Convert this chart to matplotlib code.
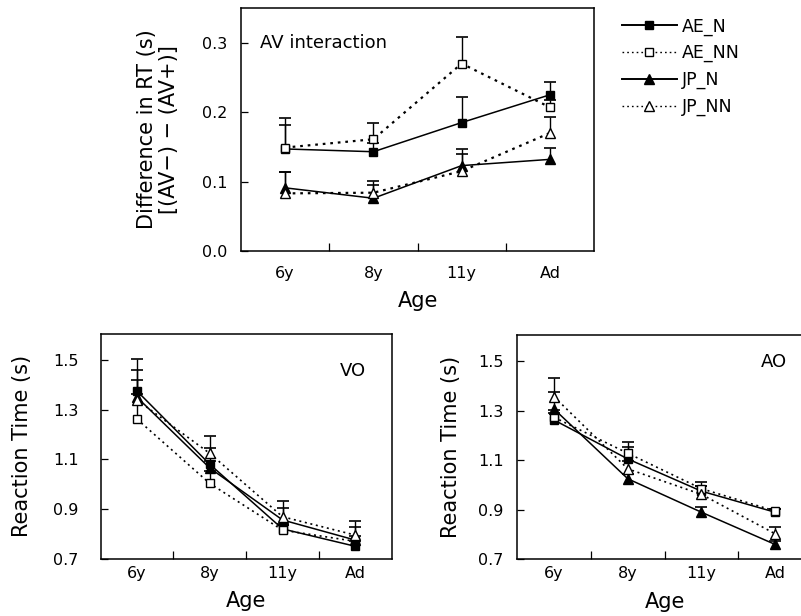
import matplotlib
matplotlib.use('Agg')
import matplotlib.pyplot as plt
import numpy as np

plt.rcParams['font.family'] = 'DejaVu Sans'

ages = ['6y', '8y', '11y', 'Ad']
groups = ['AE_N', 'AE_NN', 'JP_N', 'JP_NN']

# AV interaction: difference in RT (s)
av_ae_n = [0.147, 0.143, 0.185, 0.225]
av_ae_nn = [0.149, 0.161, 0.270, 0.207]
av_jp_n = [0.091, 0.076, 0.123, 0.132]
av_jp_nn = [0.083, 0.084, 0.115, 0.170]
av_err_ae_n = [0.035, 0.012, 0.037, 0.019]
av_err_ae_nn = [0.043, 0.024, 0.038, 0.010]
av_err_jp_n = [0.023, 0.019, 0.024, 0.017]
av_err_jp_nn = [0.031, 0.017, 0.025, 0.023]

# VO reaction time (s)
vo_ae_n = [1.375, 1.080, 0.820, 0.750]
vo_ae_nn = [1.262, 1.003, 0.815, 0.770]
vo_jp_n = [1.350, 1.065, 0.856, 0.775]
vo_jp_nn = [1.339, 1.124, 0.869, 0.795]
vo_err_ae_n = [0.130, 0.067, 0.020, 0.020]
vo_err_ae_nn = [0.100, 0.050, 0.020, 0.020]
vo_err_jp_n = [0.112, 0.030, 0.047, 0.054]
vo_err_jp_nn = [0.081, 0.070, 0.063, 0.058]

# AO reaction time (s)
ao_ae_n = [1.262, 1.105, 0.975, 0.890]
ao_ae_nn = [1.273, 1.128, 0.985, 0.895]
ao_jp_n = [1.306, 1.025, 0.890, 0.760]
ao_jp_nn = [1.356, 1.065, 0.962, 0.803]
ao_err_ae_n = [0.030, 0.050, 0.020, 0.014]
ao_err_ae_nn = [0.030, 0.047, 0.026, 0.009]
ao_err_jp_n = [0.071, 0.020, 0.023, 0.015]
ao_err_jp_nn = [0.076, 0.030, 0.033, 0.027]

styles = {
    'AE_N': dict(marker='s', mfc='black', ls='-'),
    'AE_NN': dict(marker='s', mfc='white', ls=(0, (1.2, 2.2))),
    'JP_N': dict(marker='^', mfc='black', ls='-'),
    'JP_NN': dict(marker='^', mfc='white', ls=(0, (1.2, 2.2))),
}


def draw_panel(ax, series, errs, dot_lw):
    x = np.arange(len(ages))
    handles = []
    for name, vals, err in zip(groups, series, errs):
        st = styles[name]
        vals = np.array(vals)
        err = np.array(err)
        ax.vlines(x, vals, vals + err, color='black', lw=1.0, zorder=2)
        ax.plot(x, vals + err, ls='none', marker='_', ms=9, mew=1.2,
                color='black', zorder=2)
        lw = 1.1 if st['ls'] == '-' else dot_lw
        h, = ax.plot(x, vals, color='black', lw=lw, ls=st['ls'],
                     marker=st['marker'], mfc=st['mfc'], mec='black',
                     mew=1.0, ms=5.5 if st['marker'] == 's' else 6.5,
                     zorder=3, label=name)
        handles.append(h)
    ax.set_xlim(-0.5, 3.5)
    ax.set_xticks(x)
    ax.set_xticklabels(ages)
    ax.set_xticks([0.5, 1.5, 2.5], minor=True)
    ax.tick_params(axis='x', which='major', length=0)
    ax.tick_params(axis='x', which='minor', direction='in', length=6, width=0.9)
    ax.tick_params(axis='y', direction='in', length=5, width=0.9)
    for sp in ax.spines.values():
        sp.set_linewidth(1.1)
    return handles


fig = plt.figure(figsize=(8.01, 6.16), dpi=100)

# top panel
ax1 = fig.add_axes([0.3009, 0.5925, 0.4407, 0.3945])
handles = draw_panel(ax1, [av_ae_n, av_ae_nn, av_jp_n, av_jp_nn],
                     [av_err_ae_n, av_err_ae_nn, av_err_jp_n, av_err_jp_nn], 1.6)
ax1.set_ylim(0, 0.35)
ax1.set_yticks([0.0, 0.1, 0.2, 0.3])
ax1.set_yticklabels(['0.0', '0.1', '0.2', '0.3'])
ax1.tick_params(axis='y', labelsize=11.5, pad=10)
ax1.tick_params(axis='x', labelsize=11.5, pad=11)
ax1.set_ylabel('Difference in RT (s)\n[(AV\u2212) \u2212 (AV+)]', fontsize=15,
               linespacing=1.15)
ax1.yaxis.set_label_coords(-0.175, 0.5)
ax1.set_xlabel('Age', fontsize=15, va='top')
ax1.xaxis.set_label_coords(0.5, -0.165)
ax1.text(0.055, 0.855, 'AV interaction', transform=ax1.transAxes,
         fontsize=13, va='center', ha='left')

leg = fig.legend(handles=handles, labels=groups, loc='upper left',
                 bbox_to_anchor=(0.776, 0.972), frameon=False, fontsize=12.5,
                 handlelength=3.2, handletextpad=0.3, labelspacing=0.5,
                 borderpad=0, borderaxespad=0, numpoints=1)
for ln in leg.get_lines():
    if ln.get_linestyle() != '-':
        ln.set_linewidth(1.0)
    else:
        ln.set_linewidth(1.4)

# bottom left VO
ax2 = fig.add_axes([0.1257, 0.0930, 0.3633, 0.3648])
draw_panel(ax2, [vo_ae_n, vo_ae_nn, vo_jp_n, vo_jp_nn],
           [vo_err_ae_n, vo_err_ae_nn, vo_err_jp_n, vo_err_jp_nn], 1.2)
ax2.set_ylim(0.7, 1.605)
ax2.set_yticks([0.7, 0.9, 1.1, 1.3, 1.5])
ax2.tick_params(axis='y', labelsize=11.5, pad=16)
ax2.tick_params(axis='x', labelsize=11.5, pad=5)
ax2.set_ylabel('Reaction Time (s)', fontsize=15)
ax2.yaxis.set_label_coords(-0.235, 0.5)
ax2.set_xlabel('Age', fontsize=15, va='top')
ax2.xaxis.set_label_coords(0.5, -0.145)
ax2.text(0.91, 0.835, 'VO', transform=ax2.transAxes, fontsize=13,
         va='center', ha='right')

# bottom right AO (runs past the right edge of the figure)
ax3 = fig.add_axes([0.6458, 0.0920, 0.3679, 0.3641])
draw_panel(ax3, [ao_ae_n, ao_ae_nn, ao_jp_n, ao_jp_nn],
           [ao_err_ae_n, ao_err_ae_nn, ao_err_jp_n, ao_err_jp_nn], 1.2)
ax3.set_ylim(0.7, 1.605)
ax3.set_yticks([0.7, 0.9, 1.1, 1.3, 1.5])
ax3.tick_params(axis='y', labelsize=11.5, pad=10)
ax3.tick_params(axis='x', labelsize=11.5, pad=5)
ax3.set_ylabel('Reaction Time (s)', fontsize=15)
ax3.yaxis.set_label_coords(-0.19, 0.5)
ax3.set_xlabel('Age', fontsize=15, va='top')
ax3.xaxis.set_label_coords(0.5, -0.145)
ax3.text(0.915, 0.88, 'AO', transform=ax3.transAxes, fontsize=13,
         va='center', ha='right')

fig.savefig('out.png', dpi=100)
